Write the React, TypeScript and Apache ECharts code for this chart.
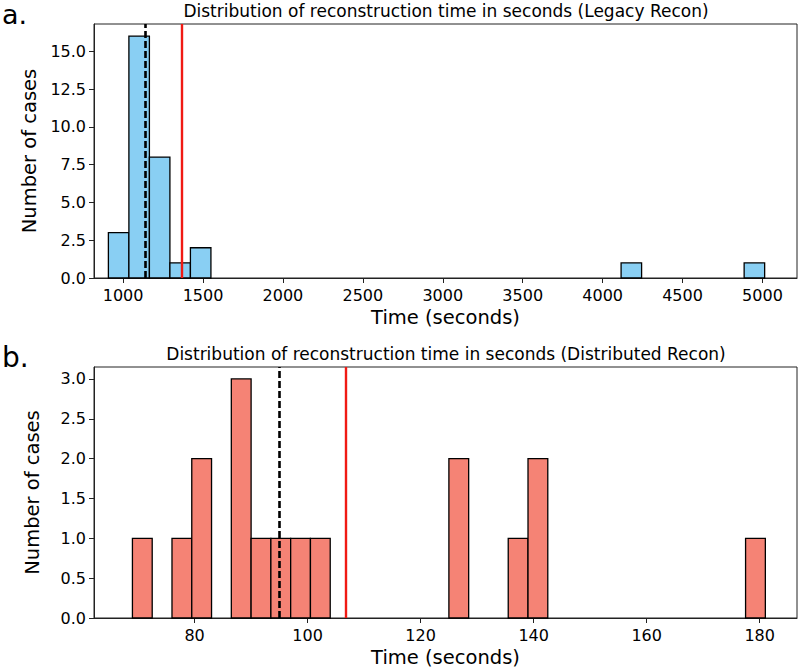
import React, { useEffect, useRef } from "react";
import * as echarts from "echarts";

// ---- Panel a: Legacy Recon ----
const legacyBinStart = 908;
const legacyBinWidth = 128.3;
const legacyCounts = [
  3, 16, 8, 1, 2, 0, 0, 0, 0, 0,
  0, 0, 0, 0, 0, 0, 0, 0, 0, 0,
  0, 0, 0, 0, 0, 1, 0, 0, 0, 0,
  0, 1,
];
const legacyMedian = 1136;
const legacyMean = 1366;
const legacyXTicks = [1000, 1500, 2000, 2500, 3000, 3500, 4000, 4500, 5000];
const legacyYTicks = [0, 2.5, 5, 7.5, 10, 12.5, 15];
const legacyXRange = [818, 5216];
const legacyYRange = [0, 16.8];

// ---- Panel b: Distributed Recon ----
const distBinStart = 69;
const distBinWidth = 3.5;
const distCounts = [
  1, 0, 1, 2, 0, 3, 1, 1, 1, 1,
  0, 0, 0, 0, 0, 0, 2, 0, 0, 1,
  2, 0, 0, 0, 0, 0, 0, 0, 0, 0,
  0, 1,
];
const distMedian = 95.0;
const distMean = 106.8;
const distXTicks = [80, 100, 120, 140, 160, 180];
const distYTicks = [0, 0.5, 1, 1.5, 2, 2.5, 3];
const distXRange = [62.2, 186.6];
const distYRange = [0, 3.15];

const titleA = "Distribution of reconstruction time in seconds (Legacy Recon)";
const titleB = "Distribution of reconstruction time in seconds (Distributed Recon)";

const FONT = "DejaVu Sans";
const FRAME = "#222";

function binsToData(start: number, width: number, counts: number[]) {
  const out: number[][] = [];
  counts.forEach((c, i) => {
    if (c > 0) out.push([start + i * width, start + (i + 1) * width, c]);
  });
  return out;
}

function renderBar(color: string) {
  return (params: any, api: any) => {
    const p0 = api.coord([api.value(0), api.value(2)]);
    const p1 = api.coord([api.value(1), 0]);
    return {
      type: "rect",
      shape: { x: p0[0], y: p0[1], width: p1[0] - p0[0], height: p1[1] - p0[1] },
      style: { fill: color, stroke: "#000", lineWidth: 1.3 },
    };
  };
}

function xAxisCfg(gridIndex: number, range: number[], ticks: number[]) {
  return {
    type: "value",
    gridIndex,
    min: range[0],
    max: range[1],
    name: "Time (seconds)",
    nameLocation: "middle",
    nameGap: 29,
    nameTextStyle: { fontFamily: FONT, fontSize: 19.5, color: "#000" },
    axisLine: { show: true, onZero: false, lineStyle: { color: FRAME, width: 1 } },
    axisTick: { show: true, length: 5, customValues: ticks, lineStyle: { color: FRAME, width: 1 } },
    axisLabel: {
      customValues: ticks,
      margin: 9.5,
      fontFamily: FONT,
      fontSize: 16,
      color: "#000",
      formatter: (v: number) => String(Math.round(v)),
    },
    splitLine: { show: false },
  };
}

function yAxisCfg(gridIndex: number, range: number[], ticks: number[]) {
  return {
    type: "value",
    gridIndex,
    min: range[0],
    max: range[1],
    name: "Number of cases",
    nameLocation: "middle",
    nameGap: 52,
    nameTextStyle: { fontFamily: FONT, fontSize: 19.5, color: "#000" },
    axisLine: { show: true, lineStyle: { color: FRAME, width: 1 } },
    axisTick: { show: true, length: 5, customValues: ticks, lineStyle: { color: FRAME, width: 1 } },
    axisLabel: {
      customValues: ticks,
      margin: 8,
      fontFamily: FONT,
      fontSize: 16,
      color: "#000",
      formatter: (v: number) => v.toFixed(1),
    },
    splitLine: { show: false },
  };
}

function vlines(xi: number, yi: number, median: number, mean: number) {
  return [
    {
      type: "line",
      xAxisIndex: xi,
      yAxisIndex: yi,
      data: [],
      z: 5,
      markLine: {
        silent: true,
        symbol: ["none", "none"],
        label: { show: false },
        animation: false,
        data: [
          { xAxis: median, lineStyle: { color: "#000", width: 2.6, type: [7, 3] } },
          { xAxis: mean, lineStyle: { color: "#f01a14", width: 2.4, type: "solid" } },
        ],
      },
    },
  ];
}

export default function App() {
  const ref = useRef<HTMLDivElement>(null);

  useEffect(() => {
    if (!ref.current) return;
    const chart = echarts.init(ref.current, null, { renderer: "svg" });
    const option: any = {
      animation: false,
      backgroundColor: "#fff",
      grid: [
        { left: 94, top: 24, width: 703, height: 254, show: true, borderColor: FRAME, borderWidth: 1, backgroundColor: "transparent" },
        { left: 94, top: 367, width: 703, height: 251, show: true, borderColor: FRAME, borderWidth: 1, backgroundColor: "transparent" },
      ],
      xAxis: [xAxisCfg(0, legacyXRange, legacyXTicks), xAxisCfg(1, distXRange, distXTicks)],
      yAxis: [yAxisCfg(0, legacyYRange, legacyYTicks), yAxisCfg(1, distYRange, distYTicks)],
      series: [
        {
          type: "custom",
          xAxisIndex: 0,
          yAxisIndex: 0,
          renderItem: renderBar("#89CFF3"),
          encode: { x: [0, 1], y: 2 },
          data: binsToData(legacyBinStart, legacyBinWidth, legacyCounts),
          z: 2,
        },
        ...vlines(0, 0, legacyMedian, legacyMean),
        {
          type: "custom",
          xAxisIndex: 1,
          yAxisIndex: 1,
          renderItem: renderBar("#F58375"),
          encode: { x: [0, 1], y: 2 },
          data: binsToData(distBinStart, distBinWidth, distCounts),
          z: 2,
        },
        ...vlines(1, 1, distMedian, distMean),
      ],
      graphic: [
        { type: "text", x: 446, y: 11, style: { text: titleA, font: `17px '${FONT}'`, fill: "#000", textAlign: "center", textVerticalAlign: "middle" } },
        { type: "text", x: 446, y: 354, style: { text: titleB, font: `17px '${FONT}'`, fill: "#000", textAlign: "center", textVerticalAlign: "middle" } },
        { type: "text", x: 2, y: 14, style: { text: "a.", font: `27px '${FONT}'`, fill: "#000", textAlign: "left", textVerticalAlign: "middle" } },
        { type: "text", x: 2, y: 357, style: { text: "b.", font: `28px '${FONT}'`, fill: "#000", textAlign: "left", textVerticalAlign: "middle" } },
      ],
    };
    chart.setOption(option);
    return () => chart.dispose();
  }, []);

  return (
    <div
      ref={ref}
      style={{ position: "fixed", left: 0, top: 0, width: 800, height: 668, background: "#fff" }}
    />
  );
}
